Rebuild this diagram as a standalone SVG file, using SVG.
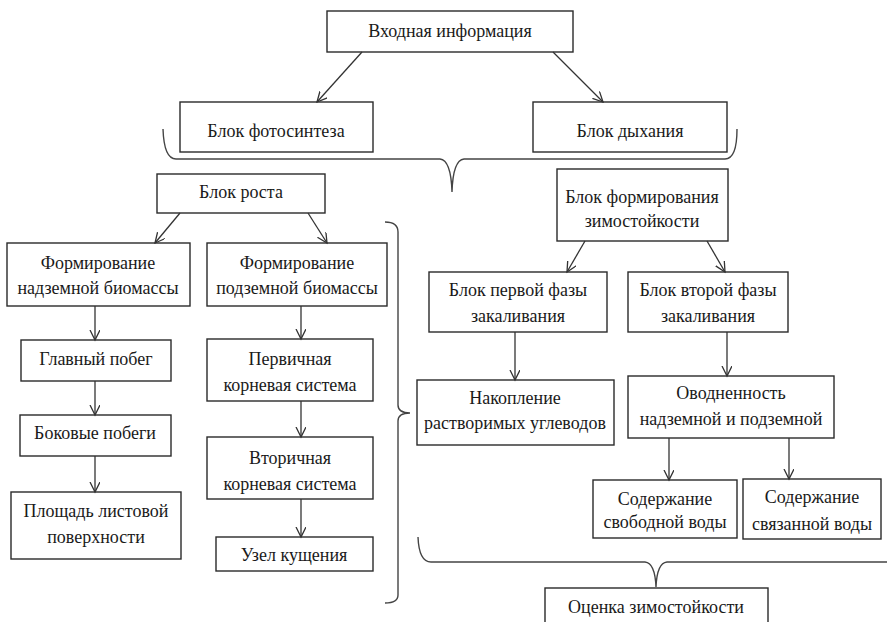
<svg xmlns="http://www.w3.org/2000/svg" width="887" height="622" viewBox="0 0 887 622">
<style>
rect.b{fill:#fff;stroke:#2a2a2a;stroke-width:1.4}
text{font-family:"Liberation Serif","Times New Roman",serif;font-size:18px;fill:#1a1a1a;text-anchor:middle}
.c line{stroke:#333;stroke-width:1.3;marker-end:url(#ah)}
.br{fill:none;stroke:#444;stroke-width:1.4}
</style>
<defs>
<marker id="ah" markerWidth="12" markerHeight="12" refX="10" refY="5" orient="auto" markerUnits="userSpaceOnUse">
<path d="M0,0 L10,5 L0,10" fill="none" stroke="#333" stroke-width="1.3"/>
</marker>
</defs>
<rect width="887" height="622" fill="#fff"/>
<g id="braces">
<path class="br" d="M163,129 Q164,159 176,159 L440,159 Q451,160 452,192 Q453,160 464,159 L725,159 Q737,159 737,129"/>
<path class="br" d="M385,222 Q398,222 398,232 L398,405 Q398,413 410,413 Q398,413 398,421 L398,595 Q398,603 385,603"/>
<path class="br" d="M418,537 Q419,562 431,562 L645,562 Q655,563 656,587 Q657,563 667,562 L887,562"/>
</g>
<g id="n1"><rect class="b" x="327" y="11" width="246" height="41"/><text x="450" y="37">Входная информация</text></g>
<g id="n2"><rect class="b" x="180" y="102" width="193" height="50"/><text x="276" y="137">Блок фотосинтеза</text></g>
<g id="n3"><rect class="b" x="533" y="102" width="194" height="50"/><text x="630" y="137">Блок дыхания</text></g>
<g id="n4"><rect class="b" x="157" y="174" width="168" height="39"/><text x="241" y="198">Блок роста</text></g>
<g id="n5"><rect class="b" x="7" y="243" width="183" height="63"/><text x="98" y="269">Формирование</text><text x="98" y="294">надземной биомассы</text></g>
<g id="n6"><rect class="b" x="207" y="243" width="180" height="63"/><text x="297" y="269">Формирование</text><text x="297" y="294">подземной биомассы</text></g>
<g id="n7"><rect class="b" x="21" y="340" width="150" height="41"/><text x="96" y="365">Главный побег</text></g>
<g id="n8"><rect class="b" x="207" y="339" width="166" height="62"/><text x="290" y="365">Первичная</text><text x="290" y="391">корневая система</text></g>
<g id="n9"><rect class="b" x="20" y="415" width="151" height="41"/><text x="95" y="439">Боковые побеги</text></g>
<g id="n10"><rect class="b" x="11" y="492" width="170" height="67"/><text x="96" y="517">Площадь листовой</text><text x="96" y="543">поверхности</text></g>
<g id="n11"><rect class="b" x="207" y="437" width="166" height="62"/><text x="290" y="464">Вторичная</text><text x="290" y="490">корневая система</text></g>
<g id="n12"><rect class="b" x="216" y="537" width="157" height="34"/><text x="294" y="561">Узел кущения</text></g>
<g id="n13"><rect class="b" x="557" y="169" width="171" height="72"/><text x="642" y="203">Блок формирования</text><text x="642" y="227">зимостойкости</text></g>
<g id="n14"><rect class="b" x="429" y="272" width="178" height="60"/><text x="518" y="296">Блок первой фазы</text><text x="518" y="322">закаливания</text></g>
<g id="n15"><rect class="b" x="628" y="272" width="160" height="60"/><text x="708" y="296">Блок второй фазы</text><text x="708" y="322">закаливания</text></g>
<g id="n16"><rect class="b" x="417" y="380" width="197" height="65"/><text x="515" y="404">Накопление</text><text x="515" y="429">растворимых углеводов</text></g>
<g id="n17"><rect class="b" x="628" y="376" width="206" height="62"/><text x="731" y="399">Оводненность</text><text x="731" y="425">надземной и подземной</text></g>
<g id="n18"><rect class="b" x="593" y="480" width="144" height="58"/><text x="665" y="505">Содержание</text><text x="665" y="528">свободной воды</text></g>
<g id="n19"><rect class="b" x="743" y="479" width="138" height="60"/><text x="812" y="503">Содержание</text><text x="812" y="530">связанной воды</text></g>
<g id="n20"><rect class="b" x="545" y="588" width="223" height="40"/><text x="656" y="613">Оценка зимостойкости</text></g>
<g id="connectors" class="c">
<line x1="362" y1="52" x2="317" y2="102"/>
<line x1="553" y1="52" x2="603" y2="102"/>
<line x1="180" y1="213" x2="155" y2="243"/>
<line x1="308" y1="213" x2="327" y2="243"/>
<line x1="95" y1="306" x2="95" y2="340"/>
<line x1="95" y1="381" x2="95" y2="415"/>
<line x1="95" y1="456" x2="95" y2="492"/>
<line x1="301" y1="306" x2="301" y2="339"/>
<line x1="301" y1="401" x2="301" y2="437"/>
<line x1="301" y1="499" x2="301" y2="537"/>
<line x1="585" y1="241" x2="567" y2="272"/>
<line x1="707" y1="241" x2="725" y2="272"/>
<line x1="515" y1="332" x2="515" y2="380"/>
<line x1="727" y1="332" x2="727" y2="376"/>
<line x1="669" y1="438" x2="669" y2="480"/>
<line x1="789" y1="438" x2="789" y2="479"/>
</g>
</svg>
